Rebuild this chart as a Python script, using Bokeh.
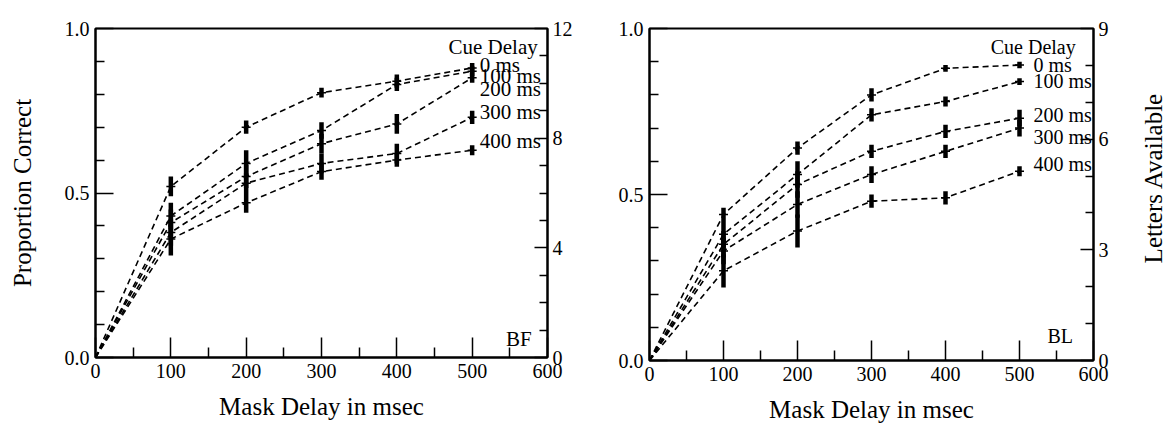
from bokeh.plotting import figure
from bokeh.layouts import row
from bokeh.models import Range1d, LinearAxis, FixedTicker, Label, ColumnDataSource
from bokeh.core.properties import value
from bokeh.embed import file_html
from bokeh.resources import INLINE
import math

# ---------------- data ----------------
mask_delay = [0, 100, 200, 300, 400, 500]
cue_labels = ["0 ms", "100 ms", "200 ms", "300 ms", "400 ms"]

# Observer BF (proportion correct)
bf_0 = [0.0, 0.52, 0.70, 0.805, 0.84, 0.88]
bf_100 = [0.0, 0.43, 0.59, 0.69, 0.83, 0.87]
bf_200 = [0.0, 0.41, 0.55, 0.65, 0.71, 0.85]
bf_300 = [0.0, 0.38, 0.53, 0.59, 0.62, 0.73]
bf_400 = [0.0, 0.36, 0.47, 0.565, 0.60, 0.63]
bf_err_0 = [0.0, 0.03, 0.02, 0.015, 0.02, 0.015]
bf_err_100 = [0.0, 0.04, 0.04, 0.025, 0.02, 0.015]
bf_err_200 = [0.0, 0.04, 0.035, 0.03, 0.03, 0.015]
bf_err_300 = [0.0, 0.04, 0.03, 0.03, 0.03, 0.02]
bf_err_400 = [0.0, 0.05, 0.03, 0.025, 0.02, 0.015]

# Observer BL (proportion correct)
bl_0 = [0.0, 0.44, 0.64, 0.80, 0.88, 0.89]
bl_100 = [0.0, 0.38, 0.56, 0.74, 0.78, 0.84]
bl_200 = [0.0, 0.35, 0.53, 0.63, 0.69, 0.73]
bl_300 = [0.0, 0.33, 0.47, 0.56, 0.63, 0.70]
bl_400 = [0.0, 0.27, 0.39, 0.48, 0.49, 0.57]
bl_err_0 = [0.0, 0.02, 0.02, 0.02, 0.01, 0.01]
bl_err_100 = [0.0, 0.04, 0.04, 0.02, 0.015, 0.01]
bl_err_200 = [0.0, 0.04, 0.04, 0.02, 0.02, 0.025]
bl_err_300 = [0.0, 0.04, 0.04, 0.025, 0.02, 0.025]
bl_err_400 = [0.0, 0.05, 0.05, 0.02, 0.02, 0.015]

x_ticks = [0, 100, 200, 300, 400, 500, 600]
x_minor = [50, 150, 250, 350, 450, 550]
y_ticks = [0.0, 0.5, 1.0]
y_minor = [0.1, 0.2, 0.3, 0.4, 0.6, 0.7, 0.8, 0.9]
bf_letters_ticks = [0, 4, 8, 12]
bl_letters_ticks = [0, 3, 6, 9]

FONT = "Liberation Serif"


def style_axis(ax, label_size="20px"):
    ax.axis_line_width = 2
    ax.axis_line_color = "black"
    ax.major_tick_out = 0
    ax.minor_tick_out = 0
    ax.major_tick_line_width = 1.5
    ax.minor_tick_line_width = 1.5
    ax.major_label_text_font = FONT
    ax.major_label_text_font_size = label_size
    ax.major_label_text_color = "black"
    ax.axis_label_text_font = FONT
    ax.axis_label_text_font_style = "normal"
    ax.axis_label_text_font_size = "25px"
    ax.axis_label_text_color = "black"


def make_panel(series, errs, letters_max, letters_ticks, fw, fh, borders,
               ylabel, lab_x, lab_y, lab_size, cue_x, cue_y, obs, obs_x, obs_y):
    bl_, br_, bt_, bb_ = borders
    p = figure(frame_width=fw, frame_height=fh, output_backend="svg",
               toolbar_location=None, x_range=Range1d(0, 600), y_range=Range1d(0, 1.0),
               min_border_left=bl_, min_border_right=br_, min_border_top=bt_,
               min_border_bottom=bb_, background_fill_color="white",
               border_fill_color="white")
    p.xgrid.visible = False
    p.ygrid.visible = False
    p.outline_line_color = "black"
    p.outline_line_width = 2

    xa = p.xaxis[0]
    xa.ticker = FixedTicker(ticks=x_ticks, minor_ticks=x_minor)
    style_axis(xa)
    xa.major_tick_in = 20
    xa.minor_tick_in = 10
    xa.major_label_standoff = 6
    xa.axis_label = "Mask Delay in msec"
    xa.axis_label_standoff = 12

    ya = p.yaxis[0]
    ya.ticker = FixedTicker(ticks=y_ticks, minor_ticks=y_minor)
    style_axis(ya)
    ya.major_tick_in = 18
    ya.minor_tick_in = 9
    ya.major_label_standoff = 6
    ya.major_label_overrides = {0: "0.0", 0.5: "0.5", 1: "1.0"}
    if ylabel:
        ya.axis_label = ylabel
        ya.axis_label_standoff = 26

    p.extra_y_ranges = {"letters": Range1d(0, letters_max)}
    ra = LinearAxis(y_range_name="letters",
                    ticker=FixedTicker(ticks=letters_ticks,
                                       minor_ticks=[v for v in range(1, letters_max) if v not in letters_ticks]))
    style_axis(ra)
    ra.major_tick_in = 13
    ra.minor_tick_in = 8
    ra.major_label_standoff = 5
    p.add_layout(ra, "right")

    for ys, es in zip(series, errs):
        p.line(mask_delay, ys, line_color="black", line_width=1.6, line_dash="6 4")
        y0 = [y - e for y, e in zip(ys, es)]
        y1 = [y + e for y, e in zip(ys, es)]
        p.segment(x0=mask_delay[1:], y0=y0[1:], x1=mask_delay[1:], y1=y1[1:],
                  line_color="black", line_width=4.5)
        p.scatter(mask_delay[1:], ys[1:], marker="dash", size=9, line_color="black",
                  line_width=1.5)

    src = ColumnDataSource(dict(x=[lab_x] * len(cue_labels), y=lab_y, t=cue_labels))
    p.text(x="x", y="y", text="t", source=src, text_font=value(FONT),
           text_font_size=lab_size, text_baseline="middle", text_align="left",
           text_color="black")
    p.add_layout(Label(x=cue_x, y=cue_y, text="Cue Delay", text_font=FONT,
                       text_font_size=lab_size, text_align="right",
                       text_baseline="middle", text_color="black"))
    p.add_layout(Label(x=obs_x, y=obs_y, text=obs, text_font=FONT,
                       text_font_size=lab_size, text_align="center",
                       text_baseline="middle", text_color="black"))
    return p


p1 = make_panel([bf_0, bf_100, bf_200, bf_300, bf_400],
                [bf_err_0, bf_err_100, bf_err_200, bf_err_300, bf_err_400],
                12, bf_letters_ticks, 452, 329, (95, 53, 24, 69),
                "Proportion Correct", 510, [0.89, 0.855, 0.815, 0.745, 0.657], "21px",
                587, 0.945, "BF", 562, 0.055)

p2 = make_panel([bl_0, bl_100, bl_200, bl_300, bl_400],
                [bl_err_0, bl_err_100, bl_err_200, bl_err_300, bl_err_400],
                9, bl_letters_ticks, 444, 332, (49, 35, 28, 62),
                None, 519, [0.889, 0.843, 0.738, 0.672, 0.593], "20px",
                576, 0.943, "BL", 555, 0.075)

# right-hand title of the second panel ("Letters Available"), reading upwards
p3 = figure(frame_width=39, frame_height=332, output_backend="svg", toolbar_location=None,
            x_range=Range1d(0, 1), y_range=Range1d(0, 1), min_border_left=0,
            min_border_right=0, min_border_top=28, min_border_bottom=62,
            background_fill_color="white", border_fill_color="white")
p3.axis.visible = False
p3.xgrid.visible = False
p3.ygrid.visible = False
p3.outline_line_color = None
p3.text(x=[0.64], y=[0.55], text=["Letters Available"], text_font=value(FONT),
        text_font_size="25px", text_align="center", text_baseline="middle",
        angle=math.pi / 2, text_color="black")

layout = row(p1, p2, p3)
open("out.html", "w").write(file_html(layout, INLINE))
